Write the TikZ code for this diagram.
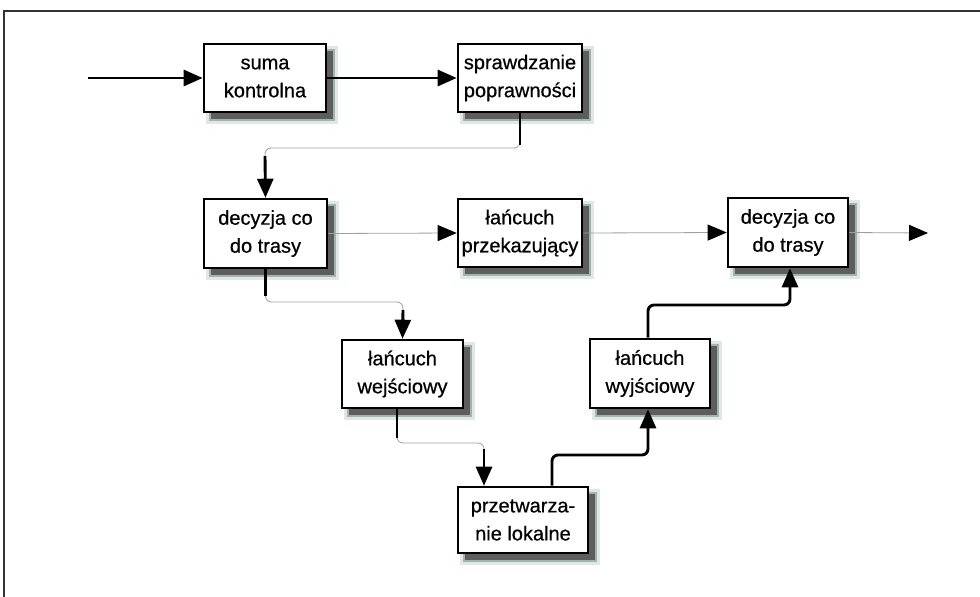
\documentclass[tikz,border=0pt]{standalone}
\usepackage{fontspec}
\setmainfont{Liberation Sans}
\usetikzlibrary{arrows.meta,calc}

\definecolor{shadowdark}{HTML}{5E5E5E}
\definecolor{fringemid}{HTML}{A3B3AE}
\definecolor{fringeout}{HTML}{E0E8E5}
\definecolor{framecol}{HTML}{333333}
\definecolor{faintline}{HTML}{A0A0A0}

\tikzset{
  blk/.style={
    % soft drop shadow, lower right
    preaction={transform canvas={shift={(7pt,-7pt)}}, draw=fringeout, fill=fringeout, line width=10pt},
    preaction={transform canvas={shift={(7pt,-7pt)}}, draw=fringemid, fill=fringemid, line width=4pt},
    preaction={transform canvas={shift={(7pt,-7pt)}}, fill=shadowdark},
    draw=black, line width=2.6pt, fill=white,
    align=center, inner sep=0pt,
    minimum width=122pt, minimum height=68pt,
    font=\fontsize{20}{28}\selectfont\addfontfeature{FakeBold=0.6}
  },
  tip/.style={-{Triangle[length=19pt,width=16pt,color=black]}},
  heavy/.style={line width=2.9pt, draw=black},
  faint/.style={line width=0.8pt, draw=faintline},
}

\begin{document}
\begin{tikzpicture}[x=1pt,y=-1pt]
  \useasboundingbox (0,0) rectangle (980,597);
  \fill[white] (0,0) rectangle (980,597);

  % outer frame, open to the right and bottom
  \draw[framecol, line width=1.6pt] (4,597) -- (4,11) -- (980,11);

  % blocks
  \node[blk] (suma)  at (265,78)    {suma\\kontrolna};
  \node[blk, minimum width=124pt] (spr) at (520,78) {sprawdzanie\\poprawności};
  \node[blk, minimum width=123pt, minimum height=69pt] (dec1) at (265.5,233.5) {decyzja co\\do trasy};
  \node[blk, minimum width=124pt] (przek) at (520,233) {łańcuch\\przekazujący};
  \node[blk, minimum width=120pt, minimum height=69pt] (dec2) at (788,232.5) {decyzja co\\do trasy};
  \node[blk, minimum width=121pt] (wej)  at (402.5,374) {łańcuch\\wejściowy};
  \node[blk, minimum width=120pt, minimum height=69pt] (wyj) at (650,373.5) {łańcuch\\wyjściowy};
  \node[blk, minimum width=130pt, minimum height=66pt] (przet) at (523,520) {przetwarza-\\nie lokalne};

  % free ends and bend points
  \coordinate (in)  at (88,78);
  \coordinate (out) at (928,233);
  \coordinate (k1) at (265,148);
  \coordinate (k2) at (403,302);
  \coordinate (k3) at (397,443);
  \coordinate (k4) at (484,443);
  \coordinate (k5) at (552,455);
  \coordinate (k6) at (648,455);
  \coordinate (k7) at (648,305);
  \coordinate (k8) at (790,305);

  % straight connectors
  \draw[heavy, tip] (in) -- (suma.west);
  \draw[heavy, tip] (suma.east) -- (spr.west);
  \draw[faint, tip] (dec1.east) -- (przek.west);
  \draw[faint, tip] (przek.east) -- (dec2.west);
  \draw[faint, tip] (dec2.east) -- (out);

  % sprawdzanie -> decyzja
  \draw[faint, rounded corners=6pt] (spr.south) |- (k1) -- (dec1.north);
  \draw[heavy] (spr.south) -- ++(0,32);
  \draw[heavy, tip] ($(k1)+(0,8)$) -- (dec1.north);

  % decyzja -> wejsciowy
  \draw[faint, rounded corners=6pt] (dec1.south) |- (k2) -- (wej.north);
  \draw[heavy] (dec1.south) -- ++(0,27);
  \draw[heavy, tip] ($(k2)+(0,8)$) -- (wej.north);

  % wejsciowy -> przetwarzanie
  \draw[faint, rounded corners=6pt] (wej.south -| k3) -- (k3) -- (k4) -- (przet.north -| k4);
  \draw[heavy] (wej.south -| k3) -- ++(0,29);
  \draw[heavy, tip] ($(k4)+(0,6)$) -- (przet.north -| k4);

  % przetwarzanie -> wyjsciowy
  \draw[heavy, tip, rounded corners=6pt] (przet.north -| k5) -- (k5) -- (k6) -- (wyj.south -| k6);

  % wyjsciowy -> decyzja
  \draw[heavy, tip, rounded corners=6pt] (wyj.north -| k7) -- (k7) -- (k8) -- (dec2.south -| k8);
\end{tikzpicture}
\end{document}
